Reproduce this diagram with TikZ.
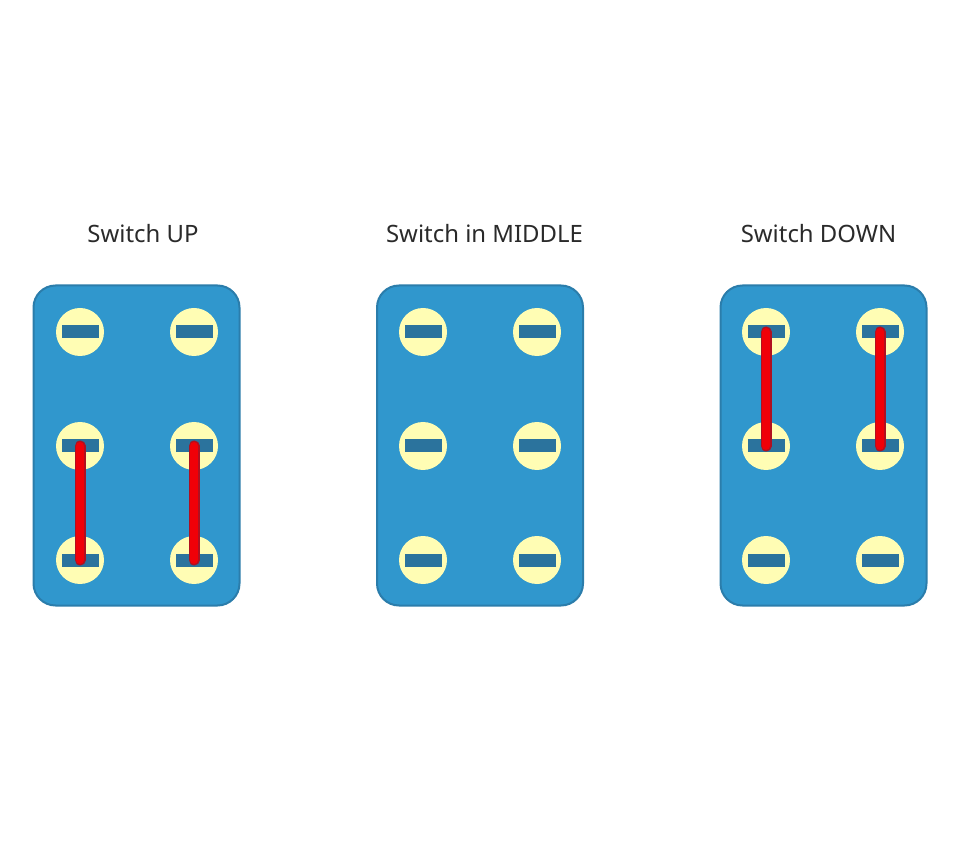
\documentclass[tikz,border=0pt]{standalone}
\usepackage{fontspec}
\setmainfont{Noto Sans}
\definecolor{panelblue}{HTML}{3097CD}
\definecolor{paneledge}{HTML}{2B7DAB}
\definecolor{slotblue}{HTML}{2B739D}
\definecolor{termyellow}{HTML}{FFFDB4}
\definecolor{linkred}{HTML}{F00008}
\definecolor{linkedge}{HTML}{B01020}
\definecolor{titlegray}{HTML}{2A2A2A}
\tikzset{
  panel/.style={rectangle, draw=paneledge, fill=panelblue, line width=0.4mm, rounded corners=4.4mm, minimum width=4.12cm, minimum height=6.4cm},
  terminal/.style={circle, fill=termyellow, inner sep=0pt, minimum size=9.6mm, label={[slot]center:{}}},
  slot/.style={rectangle, fill=slotblue, inner sep=0pt, minimum width=7.4mm, minimum height=2.6mm},
  link/.style={draw=linkedge, line width=0.3mm, double=linkred, double distance=1.6mm, line cap=round},
  title/.style={text=titlegray, font=\fontsize{13.6}{16}\selectfont},
}
\begin{document}
\begin{tikzpicture}
    \useasboundingbox (0,0) rectangle (19.2,17.14);

    \node[title] (titleu) at (2.86,12.47) {Switch UP};
    \node[title] (titlem) at (9.69,12.47) {Switch in MIDDLE};
    \node[title] (titled) at (16.37,12.47) {Switch DOWN};

    \node[panel] (panelu) at (2.73,8.23) {};
    \node[panel] (panelm) at (9.6,8.23) {};
    \node[panel] (paneld) at (16.47,8.23) {};

    \node[terminal] (u1) at (1.6,10.5) {};
    \node[terminal] (u2) at (3.88,10.5) {};
    \node[terminal] (u3) at (1.6,8.22) {};
    \node[terminal] (u4) at (3.88,8.22) {};
    \node[terminal] (u5) at (1.6,5.94) {};
    \node[terminal] (u6) at (3.88,5.94) {};

    \node[terminal] (m1) at (8.46,10.5) {};
    \node[terminal] (m2) at (10.74,10.5) {};
    \node[terminal] (m3) at (8.46,8.22) {};
    \node[terminal] (m4) at (10.74,8.22) {};
    \node[terminal] (m5) at (8.46,5.94) {};
    \node[terminal] (m6) at (10.74,5.94) {};

    \node[terminal] (d1) at (15.32,10.5) {};
    \node[terminal] (d2) at (17.6,10.5) {};
    \node[terminal] (d3) at (15.32,8.22) {};
    \node[terminal] (d4) at (17.6,8.22) {};
    \node[terminal] (d5) at (15.32,5.94) {};
    \node[terminal] (d6) at (17.6,5.94) {};

    \draw[link] (u3.center) -- (u5.center);
    \draw[link] (u4.center) -- (u6.center);
    \draw[link] (d1.center) -- (d3.center);
    \draw[link] (d2.center) -- (d4.center);
\end{tikzpicture}
\end{document}
